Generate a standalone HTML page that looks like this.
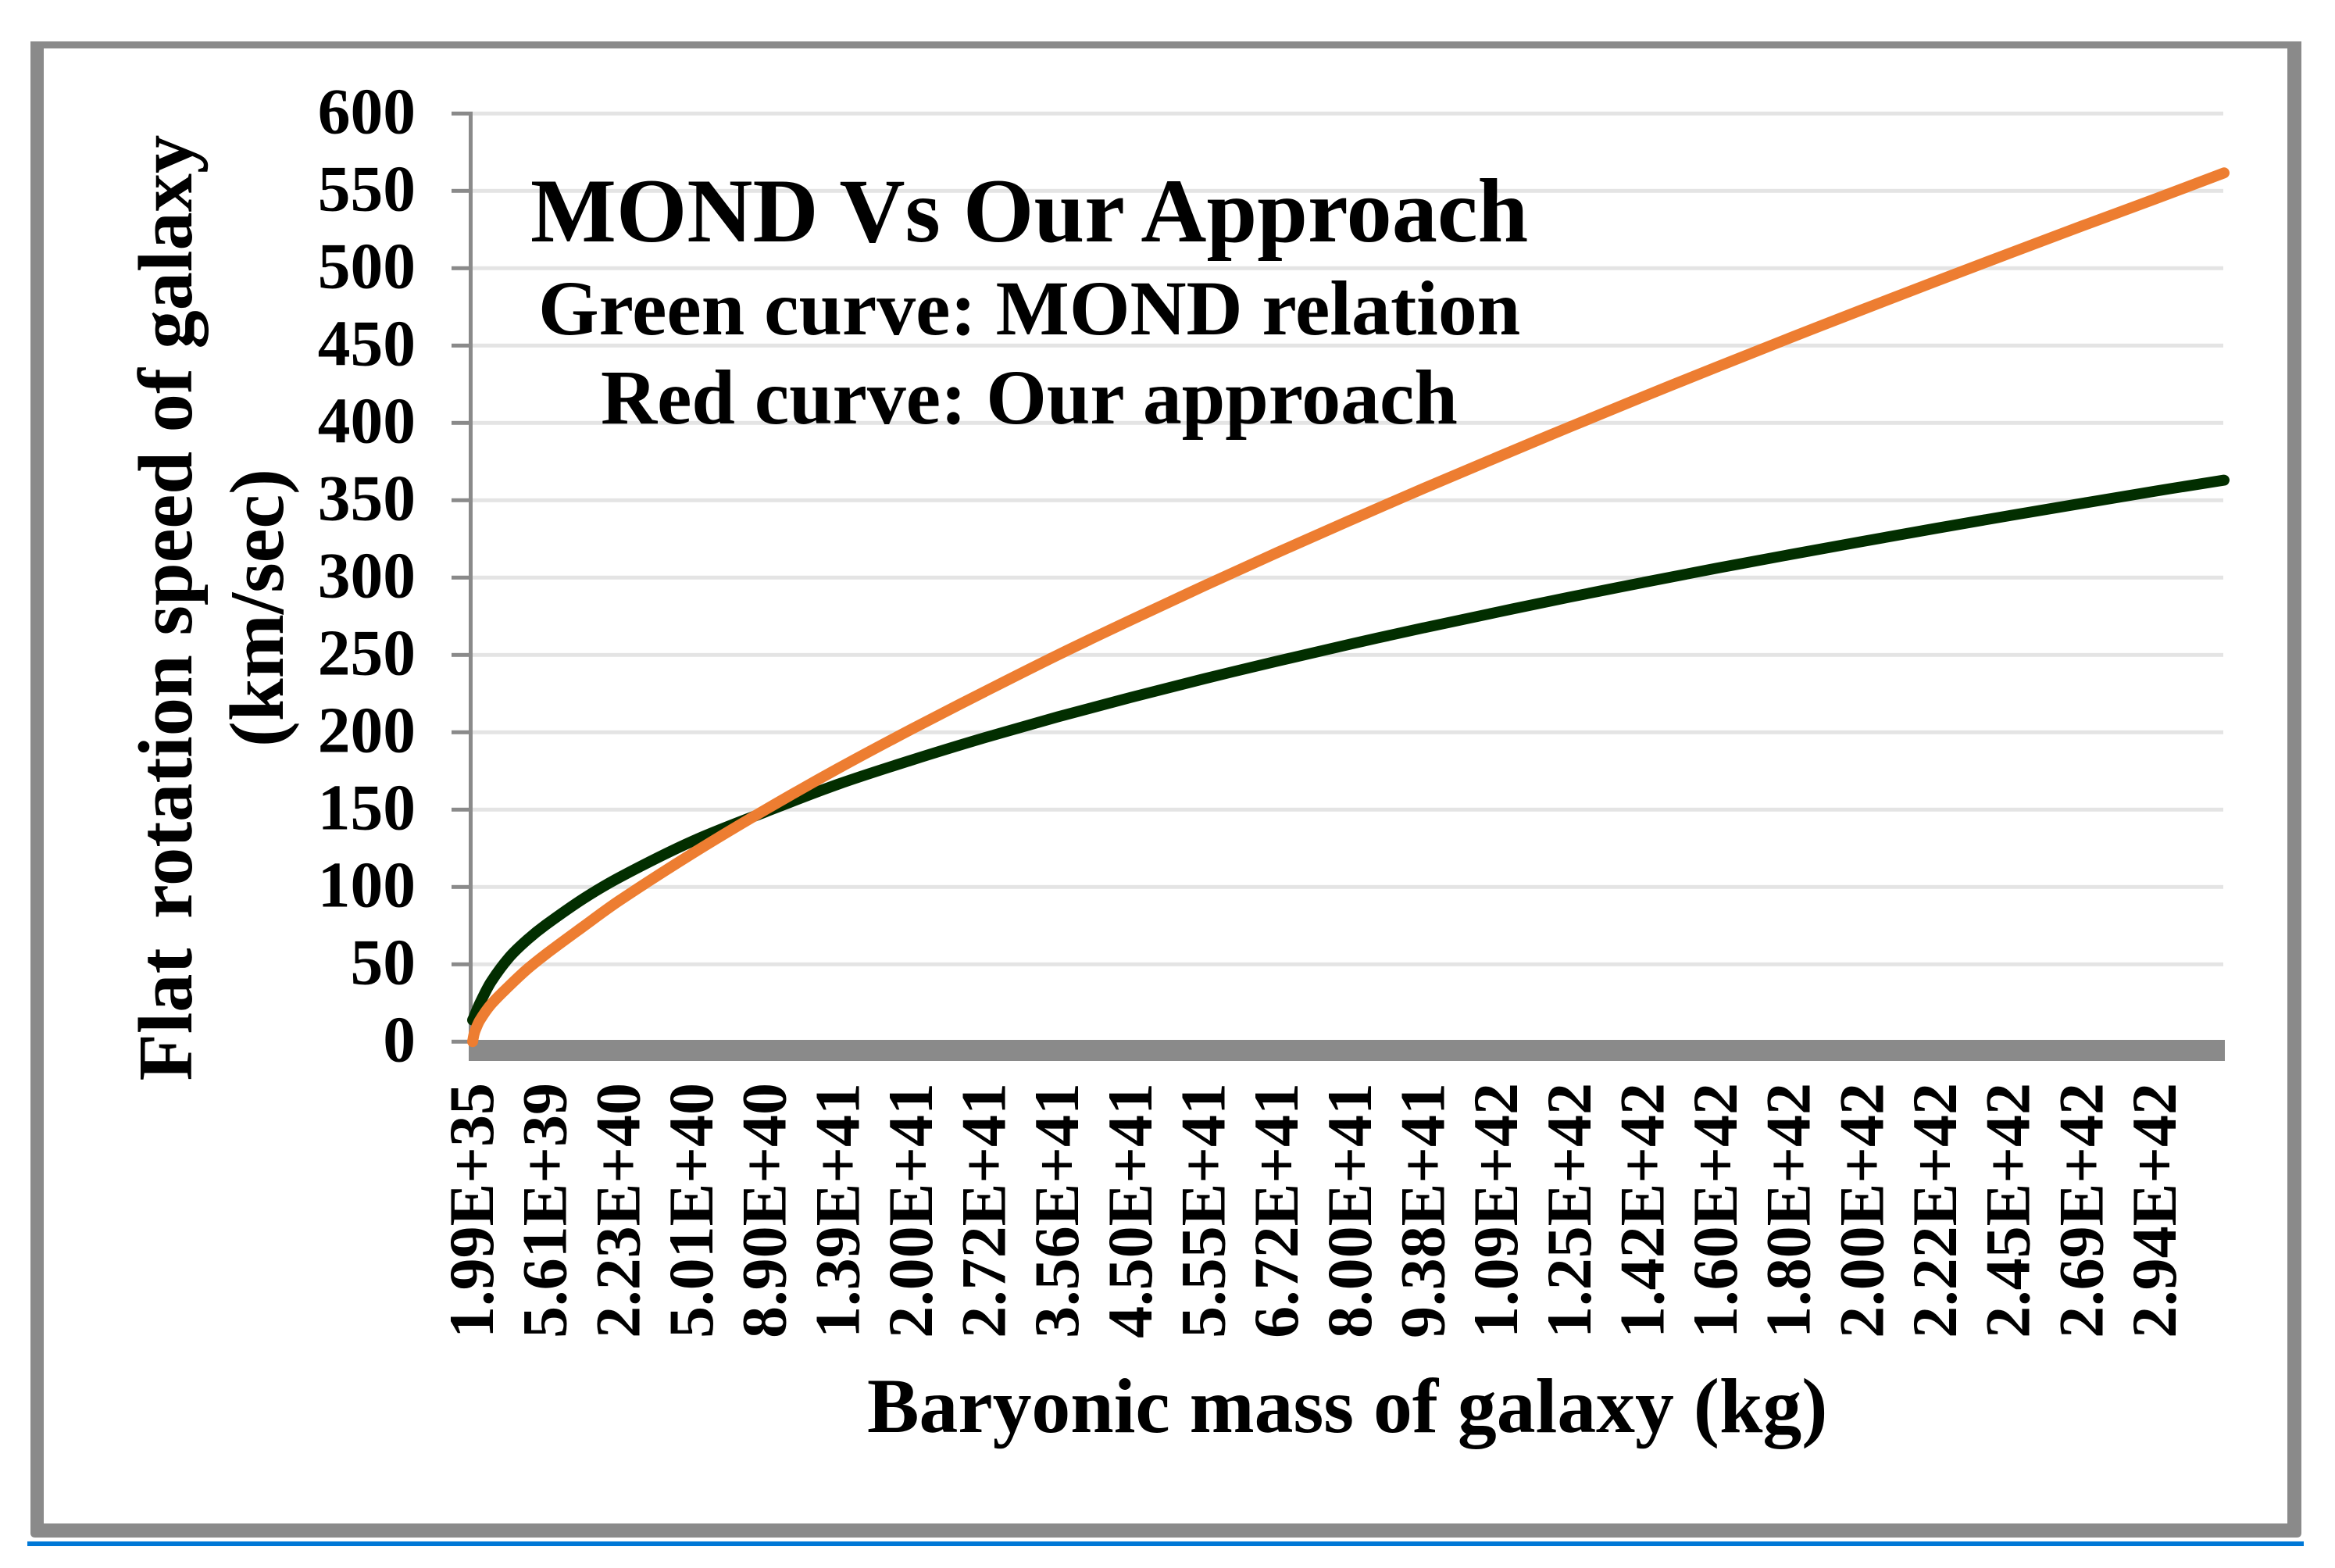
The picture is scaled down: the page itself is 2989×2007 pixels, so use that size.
<!DOCTYPE html>
<html lang="en">
<head>
<meta charset="utf-8">
<title>MOND Vs Our Approach</title>
<style>
html,body{margin:0;padding:0;background:#fff;width:2989px;height:2007px;overflow:hidden}
svg{display:block}
text{font-family:"Liberation Serif","Times New Roman",serif;font-weight:700;fill:#000}
</style>
</head>
<body>
<svg id="chart" xmlns="http://www.w3.org/2000/svg" width="2989" height="2007" viewBox="0 0 2989 2007">
  <rect x="0" y="0" width="2989" height="2007" fill="#ffffff"/>
  <path fill="#8a8a8a" fill-rule="evenodd" d="M39 53H2946V1962Q2946 1968 2940 1968H45Q39 1968 39 1962ZM56 62V1950H2928V62Z"/>
  <rect x="35" y="1973" width="2914" height="6" fill="#0078d7"/>
  <g id="grid"></g>
  <g id="yaxis"></g>
  <g id="xaxis"></g>
  <g id="series"></g>
  <text x="679" y="309" font-size="116.4">MOND Vs Our Approach</text>
  <text x="689" y="428" font-size="99.8">Green curve: MOND relation</text>
  <text x="769" y="542" font-size="99.8">Red curve: Our approach</text>
  <text transform="translate(245 778) rotate(-90)" text-anchor="middle" font-size="98.6">Flat <tspan dx="13">rotation speed of galaxy</tspan></text>
  <text transform="translate(362 778) rotate(-90)" text-anchor="middle" font-size="98.6">(km/sec)</text>
  <text x="1110" y="1833" font-size="99.7">Baryonic mass of galaxy (kg)</text>
</svg>
<script>
var categoryLabels = ["1.99E+35","5.61E+39","2.23E+40","5.01E+40","8.90E+40","1.39E+41","2.00E+41","2.72E+41","3.56E+41","4.50E+41","5.55E+41","6.72E+41","8.00E+41","9.38E+41","1.09E+42","1.25E+42","1.42E+42","1.60E+42","1.80E+42","2.00E+42","2.22E+42","2.45E+42","2.69E+42","2.94E+42"];
var yTickValues = [0,50,100,150,200,250,300,350,400,450,500,550,600];
var sampleCategories = [0,0.02,0.05,0.1,0.25,0.5,0.75,1,1.5,2,3,4,5,6,7,8,9,10,11,12,13,14,15,16,17,18,19,20,21,22,23,23.94];
var mondValues = [14,16,19.5,25,38.5,54.5,66,75.5,92,106,129.5,148.5,166.5,182,196.5,210,222.6,234.6,246,257,267.5,277.6,287.4,296.8,306,314.8,323.4,331.8,340,348,355.9,363];
var ourApproachValues = [0,5,9,14,24,36,47,56.5,74,91,121.5,149.9,176.7,202,226.3,250,272.6,294.7,316.2,337.1,357.7,377.7,397.5,416.9,436,454.8,473.3,491.5,509.5,527.3,544.8,561.6];

var NS = 'http://www.w3.org/2000/svg';
function xScale(category){ return 605 + category * 93.65; }
function yScale(value){ return 1333.3 - value * 1.98; }
function make(tag, parent, attrs){
  var el = document.createElementNS(NS, tag);
  for (var k in attrs) el.setAttribute(k, attrs[k]);
  parent.appendChild(el);
  return el;
}

var grid = document.getElementById('grid');
var yaxis = document.getElementById('yaxis');
var xaxis = document.getElementById('xaxis');
var series = document.getElementById('series');

yTickValues.forEach(function(v){
  var y = yScale(v);
  if (v !== 0) {
    var line = make('rect', grid, {x:605, y:y-2.5, width:2241, height:5, fill:'#e4e4e4'});
    
    
  }
  var tick = make('rect', yaxis, {x:578, y:y-2.5, width:22, height:5, fill:'#8a8a8a'});
  
  
  var label = make('text', yaxis, {x:532, y:y+25, 'text-anchor':'end', 'font-size':83.5});
  
  
  label.textContent = String(v);
});

var yLine = make('rect', yaxis, {x:600, y:yScale(600)-2.5, width:5, height:yScale(0)-yScale(600)+2.5, fill:'#8a8a8a'});



var xLine = make('rect', xaxis, {x:600, y:1331, width:2248, height:27, fill:'#8a8a8a'});



categoryLabels.forEach(function(text, i){
  var lx = xScale(i) + 26;
  var label = make('text', xaxis, {transform:'translate(' + lx + ' 1386) rotate(-90)', 'text-anchor':'end', 'font-size':82});
  
  
  label.textContent = text;
});

function linePath(values){
  var n = values.length;
  var px = values.map(function(v, i){ return xScale(sampleCategories[i]); });
  var py = values.map(function(v){ return yScale(v); });
  var slope = px.map(function(x, i){
    var a = Math.max(i - 1, 0), b = Math.min(i + 1, n - 1);
    return (py[b] - py[a]) / (px[b] - px[a]);
  });
  var d = 'M' + px[0].toFixed(1) + ' ' + py[0].toFixed(1);
  for (var i = 0; i < n - 1; i++) {
    var h = (px[i + 1] - px[i]) / 3;
    d += 'C' + (px[i] + h).toFixed(1) + ' ' + (py[i] + slope[i] * h).toFixed(1) + ' ' +
         (px[i + 1] - h).toFixed(1) + ' ' + (py[i + 1] - slope[i + 1] * h).toFixed(1) + ' ' +
         px[i + 1].toFixed(1) + ' ' + py[i + 1].toFixed(1);
  }
  return d;
}
var mondLine = make('path', series, {d:linePath(mondValues), fill:'none', stroke:'#022e00', 'stroke-width':14, 'stroke-linecap':'round', 'stroke-linejoin':'round'});


var ourLine = make('path', series, {d:linePath(ourApproachValues), fill:'none', stroke:'#ed7d31', 'stroke-width':14, 'stroke-linecap':'round', 'stroke-linejoin':'round'});


</script>
</body>
</html>
